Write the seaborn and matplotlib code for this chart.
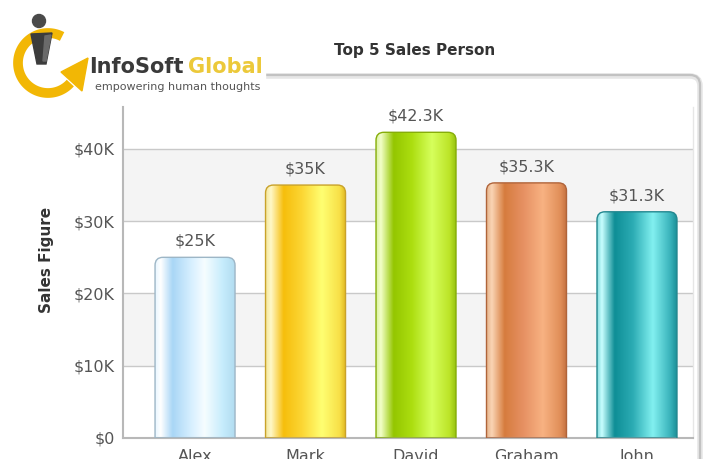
import numpy as np
import matplotlib
matplotlib.use("Agg")
import matplotlib.pyplot as plt
import seaborn as sns
from matplotlib.path import Path
from matplotlib.patches import PathPatch, Polygon, Circle, FancyBboxPatch, Rectangle
from matplotlib.colors import LinearSegmentedColormap

# ---- data -------------------------------------------------------------
names = ["Alex", "Mark", "David", "Graham", "John"]
sales = [25000, 35000, 42300, 35300, 31300]
value_labels = ["$25K", "$35K", "$42.3K", "$35.3K", "$31.3K"]
y_ticks = [0, 10000, 20000, 30000, 40000]
y_tick_labels = ["$0", "$10K", "$20K", "$30K", "$40K"]

# ---- styling ----------------------------------------------------------
base_colors = ["#c8e8fa", "#f8d020", "#b0dc10", "#e89058", "#40c0c8"]
edge_colors = ["#9db6c6", "#c9a22a", "#86ad08", "#b0643a", "#23878f"]
gradients = [
    [(0.0, "#e8f6ff"), (0.07, "#ffffff"), (0.22, "#a9d6f6"), (0.45, "#d6efff"),
     (0.62, "#f6fdff"), (0.85, "#c6ecfc"), (1.0, "#b2dcf0")],
    [(0.0, "#f4e8a0"), (0.06, "#fff8c8"), (0.22, "#f6be0c"), (0.45, "#fcd634"),
     (0.70, "#ffff72"), (0.92, "#f8e048"), (1.0, "#e0b820")],
    [(0.0, "#d8f0a0"), (0.06, "#f2ffc8"), (0.22, "#94c600"), (0.45, "#acde10"),
     (0.70, "#d6ff5c"), (0.92, "#bce428"), (1.0, "#98c410")],
    [(0.0, "#e8b890"), (0.06, "#fad4b4"), (0.22, "#d67c3e"), (0.45, "#e69062"),
     (0.70, "#f8b282"), (0.92, "#e08e58"), (1.0, "#c47040")],
    [(0.0, "#80d8dc"), (0.06, "#c8ffff"), (0.22, "#0e8e96"), (0.45, "#2cacb4"),
     (0.70, "#82f0f0"), (0.92, "#38b2ba"), (1.0, "#1c9098")],
]

sns.set_theme(style="white")
plt.rcParams["font.family"] = ["DejaVu Sans"]

W, H = 704, 459
fig = plt.figure(figsize=(W / 100, H / 100), dpi=100)
fig.patch.set_facecolor("white")

# pixel-space layer for canvas frame, logo and titles
bg = fig.add_axes([0, 0, 1, 1], zorder=0)
bg.set_xlim(0, W)
bg.set_ylim(H, 0)
bg.axis("off")

# plot area
left, right, top, bottom = 123, 693, 107, 438
ax = fig.add_axes([left / W, (H - bottom) / H, (right - left) / W, (bottom - top) / H], zorder=1)
ax.set_facecolor("white")

XMIN, XMAX = -0.652, 4.507
YMAX = 45800

sns.barplot(x=names, y=sales, hue=names, palette=base_colors, width=0.724,
            saturation=1, legend=False, ax=ax, zorder=2)
bars = [b for c in ax.containers for b in c]

# alternating bands and grid lines
for lo, hi in [(10000, 20000), (30000, 40000)]:
    ax.axhspan(lo, hi, color="#f4f4f4", zorder=0, lw=0)
for yv in y_ticks[1:]:
    ax.axhline(yv, color="#c9c9c9", lw=1.0, zorder=0.5)

ax.set_xlim(XMIN, XMAX)
ax.set_ylim(0, YMAX)

# corner radius in data units (about 8 px)
px_x = (right - left) / (XMAX - XMIN)
px_y = (bottom - top) / YMAX
rx, ry = 8 / px_x, 8 / px_y


def rounded_top(x0, w, h):
    x1 = x0 + w
    verts = [(x0, 0), (x0, h - ry), (x0, h), (x0 + rx, h), (x1 - rx, h),
             (x1, h), (x1, h - ry), (x1, 0), (x0, 0)]
    codes = [Path.MOVETO, Path.LINETO, Path.CURVE3, Path.CURVE3, Path.LINETO,
             Path.CURVE3, Path.CURVE3, Path.LINETO, Path.CLOSEPOLY]
    return Path(verts, codes)


grad = np.linspace(0, 1, 256).reshape(1, -1)
for i, p in enumerate(bars):
    x0, w, h = p.get_x(), p.get_width(), p.get_height()
    p.set_visible(False)
    outline = PathPatch(rounded_top(x0, w, h), facecolor="none",
                        edgecolor=edge_colors[i], lw=1.0, zorder=3)
    ax.add_patch(outline)
    cmap = LinearSegmentedColormap.from_list(f"bar{i}", gradients[i])
    im = ax.imshow(grad, cmap=cmap, extent=[x0, x0 + w, 0, h], aspect="auto",
                   interpolation="bilinear", zorder=2.5)
    im.set_clip_path(outline)
    ax.annotate(value_labels[i], (x0 + w / 2, h), xytext=(0, 6),
                textcoords="offset points", ha="center", va="bottom",
                fontsize=11.5, color="#555555")

ax.set_xlim(XMIN, XMAX)
ax.set_ylim(0, YMAX)
ax.set_yticks(y_ticks, y_tick_labels)
ax.tick_params(axis="y", length=0, pad=6, labelsize=11.5, labelcolor="#555555")
ax.tick_params(axis="x", length=0, pad=8, labelsize=11.5, labelcolor="#555555")
ax.set_xlabel("")
ax.set_ylabel("")
for side in ["left", "bottom"]:
    ax.spines[side].set_color("#b8b8b8")
    ax.spines[side].set_linewidth(1.5)
ax.spines["right"].set_color("#e6e6e6")
ax.spines["right"].set_linewidth(1.0)
ax.spines["top"].set_visible(False)

# canvas frame
bg.add_patch(FancyBboxPatch((-40, 76), 740, 460, boxstyle="round,pad=0,rounding_size=10",
                            fill=False, ec="#e6e6e6", lw=4))
bg.add_patch(FancyBboxPatch((-40, 75), 740, 460, boxstyle="round,pad=0,rounding_size=10",
                            fill=False, ec="#c2c2c2", lw=1.6))

# titles
bg.text(415, 50, "Top 5 Sales Person", ha="center", va="center",
        fontsize=11, fontweight="bold", color="#333333")
bg.text(47, 260, "Sales Figure", rotation=90, ha="center", va="center",
        fontsize=11, fontweight="bold", color="#333333")

# logo
bg.add_patch(Rectangle((0, 0), 265, 100, color="white", zorder=2))
t = np.radians(np.linspace(62, 318, 120))
cx, cy, r = 48, 63, 30
bg.plot(cx + r * np.cos(t), cy - r * np.sin(t), color="#f2b705", lw=7,
        solid_capstyle="butt", zorder=3)
bg.add_patch(Polygon([(61, 72), (88, 58), (82, 91)], color="#f2b705", zorder=3))
bg.add_patch(Circle((39, 21), 6.5, color="#4a4a4a", zorder=4))
bg.add_patch(Polygon([(31, 34), (52, 33), (46, 64), (37, 64)], color="#3c3c3c", zorder=4))
bg.add_patch(Polygon([(45, 36), (51, 35), (46, 61), (43, 61)], color="#6a6a6a", zorder=4))
bg.text(89, 73, "InfoSoft", fontsize=15, fontweight="bold", color="#3a3a3a",
        ha="left", va="baseline", zorder=5)
bg.text(188, 73, "Global", fontsize=15, fontweight="bold", color="#ecc93a",
        ha="left", va="baseline", zorder=5)
bg.text(95, 90, "empowering human thoughts", fontsize=8, color="#555555",
        ha="left", va="baseline", zorder=5)

fig.savefig("out.png", dpi=100, facecolor="white")
